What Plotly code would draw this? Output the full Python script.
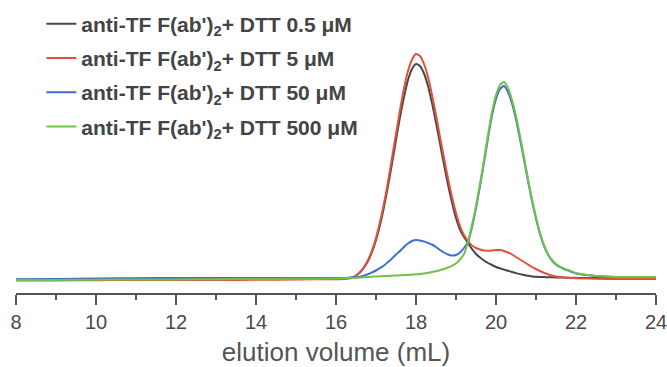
import plotly.graph_objects as go

# elution volume (mL)
volume = [8, 9, 10, 11, 12, 13, 14, 15, 16, 16.2, 16.4,
          16.5, 16.6, 16.7, 16.8, 16.9,
          17.0, 17.1, 17.2, 17.3, 17.4, 17.5, 17.6, 17.7, 17.8, 17.9,
          18.0, 18.1, 18.2, 18.3, 18.4, 18.5, 18.6, 18.7, 18.8, 18.9,
          19.0, 19.1, 19.2, 19.3, 19.4, 19.5, 19.6, 19.7, 19.8, 19.9,
          20.0, 20.1, 20.2, 20.3, 20.4, 20.5, 20.6, 20.7, 20.8, 20.9,
          21.0, 21.1, 21.2, 21.3, 21.4, 21.5, 21.6, 21.7, 21.8, 21.9,
          22.0, 22.5, 23, 23.5, 24]

dtt_0_5 = [1.5, 1.5, 1.8, 2, 2, 2, 2, 2.2, 2.5, 2.6, 3.5,
           5.5, 8.5, 13.5, 20, 29,
           41, 56, 74, 95, 117.5, 141, 164, 184, 201, 212,
           217, 215, 207.5, 195, 178, 158.5, 137.5, 116.5, 96.5, 78.5,
           63, 51.5, 44, 38, 32, 27, 23.5, 20.5, 18, 16,
           14, 12.7, 11.4, 10.2, 9, 7.9, 6.9, 6, 5.2, 4.6,
           4.2, 4, 3.9, 3.8, 3.7, 3.6, 3.5, 3.4, 3.3, 3.2,
           3.1, 3, 3, 3, 3]

dtt_5 = [0.5, 0.5, 0.8, 1, 1, 1, 1.2, 1.5, 1.8, 2, 3,
         5, 9, 14, 21, 30.5,
         43, 59, 77.5, 99, 123, 147, 171, 192.5, 210, 221.5,
         227, 225, 217, 204, 186, 166, 144, 123, 102.5, 84,
         68, 55, 46, 40, 35.5, 33, 31.5, 30.5, 30.3, 30.5,
         31, 31, 30, 28.5, 26.5, 24, 21.5, 19, 16.5, 14,
         12, 10, 8.2, 6.7, 5.5, 4.6, 4, 3.6, 3.2, 3,
         2.7, 2.2, 2, 2, 2]

dtt_50 = [1.5, 2, 2.5, 2.8, 3, 3, 3, 3, 3, 3, 3.5,
          3.8, 4.3, 5.3, 6.8, 8.6,
          10.5, 13, 15.5, 19, 22.5, 26.5, 30, 34, 37.5, 40,
          41, 40.5, 39.5, 38, 36.5, 34, 31, 28.5, 26.5, 25.5,
          26, 28.5, 33, 39, 54, 73, 95, 118.5, 143, 165.5,
          182, 192, 195, 189, 177.5, 161.5, 142, 121.5, 100, 80,
          62.5, 47, 35, 26.5, 20.5, 16.5, 14, 12, 10.5, 9,
          7.5, 5, 4, 4, 4]

dtt_500 = [1, 1, 1.3, 1.5, 1.5, 1.8, 2, 2.2, 2.5, 2.8, 3,
           3.2, 3.4, 3.7, 4, 4.3,
           4.5, 4.7, 4.9, 5.1, 5.3, 5.5, 5.7, 5.9, 6.1, 6.4,
           6.7, 7, 7.5, 8.2, 9, 9.8, 10.8, 12, 13.5, 15.2,
           17.5, 21.5, 27, 39, 56, 75, 97, 121, 146, 169,
           186, 196, 199, 193, 181, 165, 145, 124, 102, 82,
           64, 48, 36, 27, 21, 17, 14.5, 12.5, 11, 9.5,
           8, 5, 4, 4, 4]

names = ["anti-TF F(ab')<sub>2</sub>+ DTT 0.5 μM",
         "anti-TF F(ab')<sub>2</sub>+ DTT 5 μM",
         "anti-TF F(ab')<sub>2</sub>+ DTT 50 μM",
         "anti-TF F(ab')<sub>2</sub>+ DTT 500 μM"]
series = [dtt_0_5, dtt_5, dtt_50, dtt_500]
colors = ["#474747", "#E0523E", "#3D6ED0", "#72C246"]

x_ticks = [8, 10, 12, 14, 16, 18, 20, 22, 24]

fig = go.Figure()
for i, (nm, ys, c) in enumerate(zip(names, series, colors)):
    fig.add_trace(go.Scatter(
        x=volume, y=ys, mode="lines", name="<b>" + nm + "</b>",
        legendgroup=str(i),
        line=dict(color=c, width=2, shape="spline", smoothing=0.6),
    ))

axis_col = "#555555"
fig.update_layout(
    width=667, height=367,
    margin=dict(l=16, r=11, t=10, b=74, autoexpand=False),
    paper_bgcolor="white", plot_bgcolor="white",
    showlegend=True,
    legend=dict(
        xref="container", yref="container",
        x=0.062, y=0.9905, xanchor="left", yanchor="top",
        font=dict(family="Liberation Sans, Arial", size=21, color="#444444"),
        bgcolor="rgba(0,0,0,0)", tracegroupgap=4,
    ),
    xaxis=dict(
        range=[8, 24], tickvals=x_ticks, ticktext=[str(t) for t in x_ticks],
        ticklabeloverflow="allow",
        showline=True, linecolor=axis_col, linewidth=1.5,
        ticks="outside", ticklen=10, tickwidth=1.5, tickcolor=axis_col,
        minor=dict(dtick=1, tick0=8, ticks="outside", ticklen=5,
                   tickwidth=1.5, tickcolor=axis_col),
        tickfont=dict(family="Liberation Sans, Arial", size=20, color="#4a4a4a"),
        showgrid=False, zeroline=False,
        title=dict(text="elution volume (mL)", standoff=12,
                   font=dict(family="Liberation Sans, Arial", size=26, color="#555555")),
    ),
    yaxis=dict(visible=False, range=[-12, 271]),
)

# remove the browser's default 8px body margin so the figure fills the window
fig.write_html("out.html", config={"displayModeBar": False},
               post_script="document.body.style.margin='0';document.body.style.overflow='hidden';")
